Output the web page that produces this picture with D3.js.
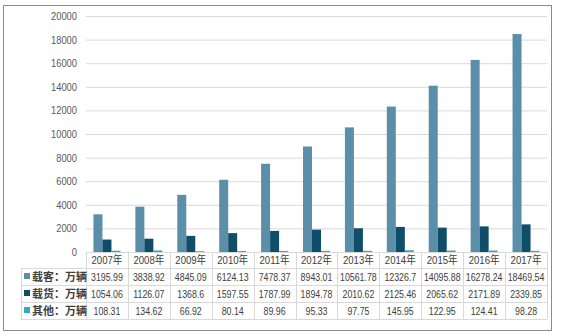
<!DOCTYPE html>
<html><head><meta charset="utf-8">
<script src="https://cdn.jsdelivr.net/npm/d3@7/dist/d3.min.js"></script>
<style>
body{margin:0;background:#fff;}
text{font-family:"Liberation Sans","Noto Sans CJK SC",sans-serif;}
text.cjk{font-family:"Noto Sans CJK SC",sans-serif;}
</style></head>
<body>
<svg id="c" width="562" height="336"></svg>
<script>
const categories = ["2007年","2008年","2009年","2010年","2011年","2012年","2013年","2014年","2015年","2016年","2017年"];
const seriesNames = ["载客：万辆","载货：万辆","其他：万辆"];
const passenger = [3195.99,3838.92,4845.09,6124.13,7478.37,8943.01,10561.78,12326.7,14095.88,16278.24,18469.54];
const cargo = [1054.06,1126.07,1368.6,1597.55,1787.99,1894.78,2010.62,2125.46,2065.62,2171.89,2339.85];
const other = [108.31,134.62,66.92,80.14,89.96,95.33,97.75,145.95,122.95,124.41,98.28];
const yTicks = [0,2000,4000,6000,8000,10000,12000,14000,16000,18000,20000];
const colors = ["#5b8fa9","#0f4d68","#33a8c4"];

(function(){
const svg = d3.select("#c");
const series = [passenger, cargo, other];
function narrow(sel, k){
  sel.each(function(){
    const L = this.getComputedTextLength();
    d3.select(this).attr("textLength", (L*k).toFixed(1)).attr("lengthAdjust","spacingAndGlyphs");
  });
}

svg.append("rect").attr("x",3.5).attr("y",5.5).attr("width",548).attr("height",325)
  .attr("fill","#fff").attr("stroke","#8c8c8c").attr("stroke-width",1);

const pL = 86, pR = 547, pT = 16, pB = 252;
const x = d3.scaleBand().domain(categories).range([pL,pR]).paddingInner(0).paddingOuter(0);
const y = d3.scaleLinear().domain([0,20000]).range([pB,pT]);
const xs = d3.scaleBand().domain([0,1,2]).range([0,27]).padding(0);
const groupOffset = (x.bandwidth()-27)/2;

const yAxis = d3.axisLeft(y).tickValues(yTicks).tickSize(-(pR-pL)).tickFormat(d=>d);
const ga = svg.append("g").attr("transform",`translate(${pL},0)`).call(yAxis);
ga.select(".domain").remove();
ga.selectAll(".tick line").attr("stroke","#d9d9d9").attr("stroke-width",1);
ga.selectAll(".tick text").attr("fill","#595959").attr("font-size","11px").attr("x",-9)
  .style("font-family",'"Liberation Sans",sans-serif').call(narrow,0.85);

series.forEach((vals,si)=>{
  svg.append("g").selectAll("rect").data(vals).join("rect")
    .attr("x",(d,i)=>x(categories[i])+groupOffset+xs(si))
    .attr("width",xs.bandwidth())
    .attr("y",d=>y(d))
    .attr("height",d=>y(0)-y(d))
    .attr("fill",colors[si]);
});

const rowTops = [252,268,285,302,319];
const lineColor = "#d9d9d9";
const tg = svg.append("g");
rowTops.forEach((ry,i)=>{
  tg.append("line").attr("x1", i===0? pL : 21).attr("x2",pR)
    .attr("y1",ry+0.5).attr("y2",ry+0.5).attr("stroke",lineColor);
});
categories.forEach((c)=>{
  tg.append("line").attr("x1",Math.round(x(c))+0.5).attr("x2",Math.round(x(c))+0.5)
    .attr("y1",rowTops[0]).attr("y2",rowTops[4]).attr("stroke",lineColor);
});
tg.append("line").attr("x1",pR+0.5).attr("x2",pR+0.5).attr("y1",rowTops[0]).attr("y2",rowTops[4]).attr("stroke",lineColor);
tg.append("line").attr("x1",21.5).attr("x2",21.5).attr("y1",rowTops[1]).attr("y2",rowTops[4]).attr("stroke",lineColor);

tg.selectAll("text.h").data(categories).join("text").attr("class","h")
  .attr("x",d=>x(d)+x.bandwidth()/2).attr("y",(rowTops[0]+rowTops[1])/2+4)
  .attr("text-anchor","middle").attr("font-size","11px").attr("fill","#404040").text(d=>d)
  .call(narrow,0.87);

series.forEach((vals,si)=>{
  const cy = (rowTops[si+1]+rowTops[si+2])/2;
  tg.append("rect").attr("x",24).attr("y",cy-3.5).attr("width",6).attr("height",6).attr("fill",colors[si]);
  tg.append("text").attr("class","cjk").attr("x",32).attr("y",cy+4).attr("font-size","11px").attr("fill","#404040")
    .attr("font-weight","bold").text(seriesNames[si]);
  tg.selectAll(null).data(vals).join("text")
    .attr("x",(d,i)=>x(categories[i])+x.bandwidth()/2).attr("y",cy+4)
    .attr("text-anchor","middle").attr("font-size","11px").attr("fill","#404040")
    .text(d=>String(d)).call(narrow,0.8);
});
})();
</script>
</body></html>
